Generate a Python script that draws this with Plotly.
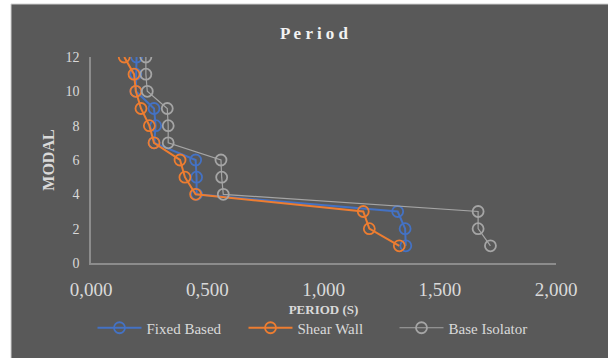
import plotly.graph_objects as go

modal = [12, 11, 10, 9, 8, 7, 6, 5, 4, 3, 2, 1]
fixed_based = [0.196, 0.193, 0.193, 0.271, 0.278, 0.272, 0.450, 0.454, 0.454, 1.319, 1.351, 1.354]
shear_wall = [0.143, 0.185, 0.193, 0.215, 0.251, 0.271, 0.383, 0.404, 0.450, 1.171, 1.197, 1.326]
base_isolator = [0.236, 0.236, 0.242, 0.328, 0.332, 0.332, 0.559, 0.562, 0.569, 1.665, 1.665, 1.718]

x_tickvals = [0, 0.5, 1.0, 1.5, 2.0]
x_ticktext = ["0,000", "0,500", "1,000", "1,500", "2,000"]
y_tickvals = [0, 2, 4, 6, 8, 10, 12]

W, H = 608, 358
L, R, T, B = 91, 52, 57, 95
pw, ph = W - L - R, H - T - B

serif = "Liberation Serif, Times New Roman, serif"
fig = go.Figure()

series = [
    ("Fixed Based", fixed_based, "#4472C4", 2),
    ("Shear Wall", shear_wall, "#ED7D31", 2),
    ("Base Isolator", base_isolator, "#A5A5A5", 1.2),
]
for name, vals, col, lw in series:
    fig.add_trace(go.Scatter(
        x=vals, y=modal, name=name, mode="lines+markers",
        line=dict(color=col, width=lw),
        marker=dict(symbol="circle-open", size=11, color=col, line=dict(width=1.8, color=col)),
    ))

fig.add_shape(type="rect", xref="paper", yref="paper", layer="below",
              x0=(11 - L) / pw, x1=(W + 5 - L) / pw,
              y0=(H - B - (H + 5)) / ph, y1=(H - B - 4) / ph,
              fillcolor="#595959", line=dict(color="#d0d0d0", width=1))

fig.update_layout(
    width=W, height=H,
    margin=dict(l=L, r=R, t=T, b=B, autoexpand=False),
    paper_bgcolor="white", plot_bgcolor="#595959",
    title=dict(text="<b>P e r i o d</b>", x=(314) / W, xanchor="center", y=1 - 33 / H, yanchor="middle",
               font=dict(family=serif, size=17, color="#f2f2f2")),
    showlegend=True,
    legend=dict(orientation="h", x=(319 - L) / pw, xanchor="center", y=(H - B - 328) / ph, yanchor="middle",
                font=dict(family=serif, size=15, color="#d9d9d9"), bgcolor="rgba(0,0,0,0)",
                itemwidth=44, entrywidth=92, entrywidthmode="pixels", tracegroupgap=0),
    xaxis=dict(range=[0, 2], tickvals=x_tickvals, ticktext=x_ticktext, showgrid=False, zeroline=False,
               showline=True, linecolor="#8c8c8c", linewidth=1.5, ticks="", ticklabelstandoff=8,
               automargin=False,
               tickfont=dict(family=serif, size=19, color="#d9d9d9"),
               title=dict(text="<b>PERIOD (S)</b>", font=dict(family=serif, size=13, color="#d9d9d9"), standoff=6)),
    yaxis=dict(range=[0, 12], tickvals=y_tickvals, showgrid=False, zeroline=False,
               showline=True, linecolor="#8c8c8c", linewidth=1.5, ticks="", ticklabelstandoff=7,
               automargin=False,
               tickfont=dict(family=serif, size=14, color="#d9d9d9"),
               title=dict(text="<b>MODAL</b>", font=dict(family=serif, size=16, color="#d9d9d9"), standoff=7)),
)

fig.write_html("out.html", config={"displayModeBar": False},
               post_script="document.body.style.margin='0px';document.body.style.overflow='hidden';")
